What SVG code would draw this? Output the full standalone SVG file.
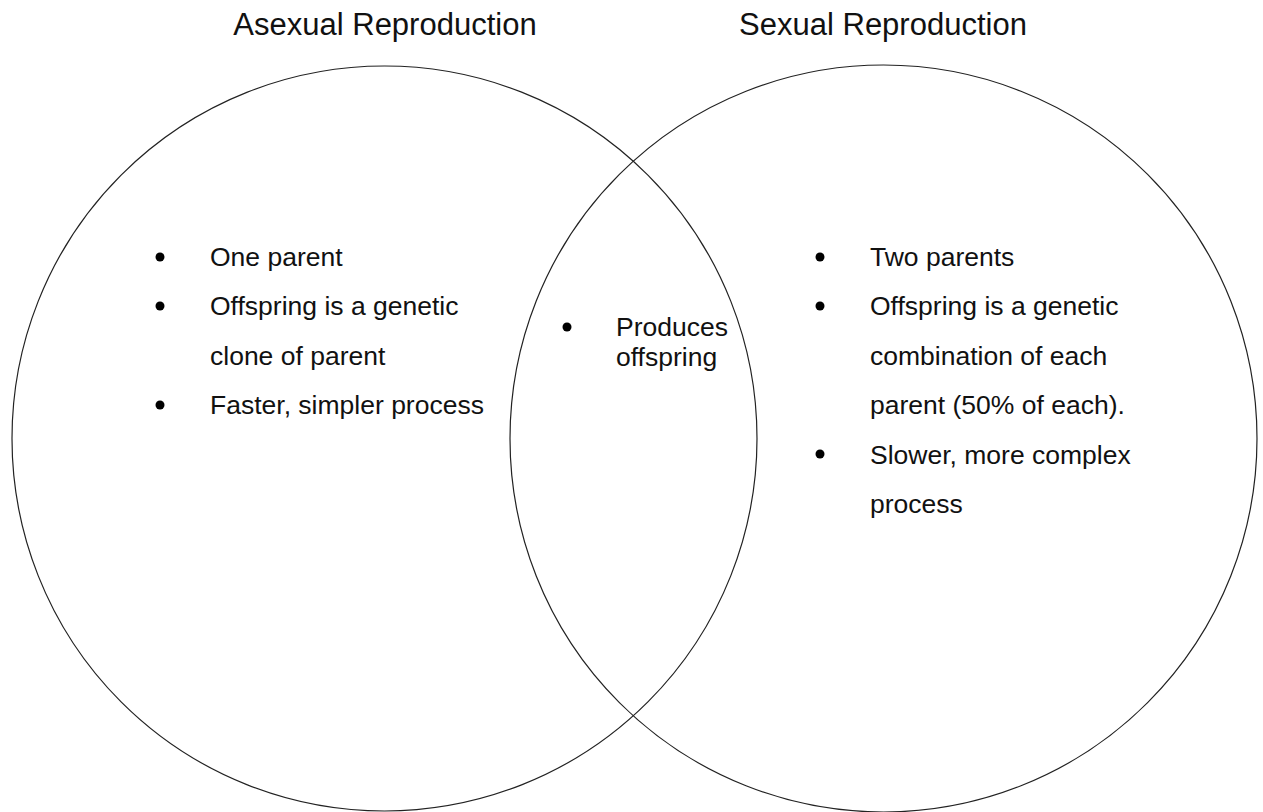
<svg xmlns="http://www.w3.org/2000/svg" width="1263" height="812" viewBox="0 0 1263 812">
<style>
.c{fill:none;stroke:#222;stroke-width:1.2}
.t{font-family:"Liberation Sans",Arial,sans-serif;fill:#111}
.h{font-size:31px;text-anchor:middle}
.b{font-size:26.5px}
.d{fill:#000}
</style>
<rect width="1263" height="812" fill="#fff"/>
<g id="asexual">
<circle class="c" cx="384.5" cy="438.5" r="372.5"/>
<text class="t h" x="385" y="35">Asexual Reproduction</text>
<circle class="d" cx="160" cy="257" r="4.5"/>
<circle class="d" cx="160" cy="306" r="4.5"/>
<circle class="d" cx="160" cy="405" r="4.5"/>
<text class="t b" x="210" y="266">One parent</text>
<text class="t b" x="210" y="315">Offspring is a genetic</text>
<text class="t b" x="210" y="365">clone of parent</text>
<text class="t b" x="210" y="414">Faster, simpler process</text>
</g>
<g id="sexual">
<circle class="c" cx="883.5" cy="438.5" r="373.5"/>
<text class="t h" x="883" y="35">Sexual Reproduction</text>
<circle class="d" cx="820" cy="257" r="4.5"/>
<circle class="d" cx="820" cy="306" r="4.5"/>
<circle class="d" cx="820" cy="454" r="4.5"/>
<text class="t b" x="870" y="266">Two parents</text>
<text class="t b" x="870" y="315">Offspring is a genetic</text>
<text class="t b" x="870" y="365">combination of each</text>
<text class="t b" x="870" y="414">parent (50% of each).</text>
<text class="t b" x="870" y="464">Slower, more complex</text>
<text class="t b" x="870" y="513">process</text>
</g>
<g id="both">
<circle class="d" cx="567" cy="327" r="4.5"/>
<text class="t b" x="616" y="336">Produces</text>
<text class="t b" x="616" y="366">offspring</text>
</g>
<g id="connectors"></g>
</svg>
